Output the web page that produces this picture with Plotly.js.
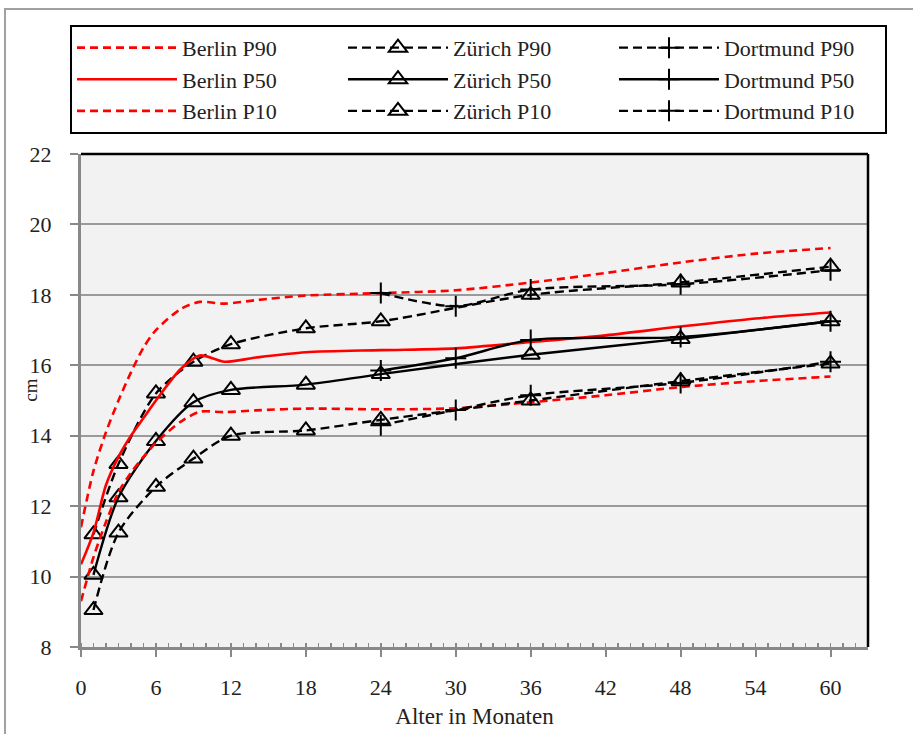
<!DOCTYPE html>
<html><head><meta charset="utf-8">
<script src="https://cdn.plot.ly/plotly-3.0.1.min.js"></script>
<style>html,body{margin:0;padding:0;background:#fff}#chart{width:913px;height:734px}</style>
</head><body><div id="chart"></div><script>
// Berlin (smooth reference curves, no markers)
const berlinX   = [0, 1, 2, 3, 4, 5, 6, 8, 9.5, 11.5, 14, 18, 24, 30, 36, 42, 48, 54, 60];
const berlinP90 = [11.4, 13.0, 14.1, 15.0, 15.8, 16.5, 17.0, 17.6, 17.8, 17.75, 17.85, 17.98, 18.05, 18.13, 18.35, 18.62, 18.92, 19.17, 19.33];
const berlinP50 = [10.35, 11.25, 12.6, 13.4, 14.0, 14.5, 15.0, 15.9, 16.28, 16.1, 16.22, 16.37, 16.43, 16.48, 16.66, 16.85, 17.1, 17.33, 17.5];
const berlinP10 = [9.3, 10.55, 11.55, 12.4, 12.95, 13.4, 13.8, 14.4, 14.68, 14.67, 14.72, 14.77, 14.75, 14.78, 14.95, 15.15, 15.38, 15.55, 15.68];
// Zürich
const zurichX   = [1, 3, 6, 9, 12, 18, 24, 36, 48, 60];
const zurichP90 = [11.2, 13.2, 15.2, 16.1, 16.6, 17.05, 17.25, 18.0, 18.35, 18.8];
const zurichP50 = [10.05, 12.25, 13.85, 14.95, 15.3, 15.45, 15.75, 16.3, 16.75, 17.25];
const zurichP10 = [9.05, 11.25, 12.55, 13.35, 14.0, 14.15, 14.45, 15.0, 15.55, 16.05];
// Dortmund
const dortX   = [24, 30, 36, 48, 60];
const dortP90 = [18.05, 17.68, 18.15, 18.3, 18.7];
const dortP50 = [15.85, 16.2, 16.72, 16.8, 17.25];
const dortP10 = [14.3, 14.73, 15.15, 15.5, 16.1];

const xTicks = [0, 6, 12, 18, 24, 30, 36, 42, 48, 54, 60];
const yTicks = [8, 10, 12, 14, 16, 18, 20, 22];
const xTitle = 'Alter in Monaten';
const yTitle = 'cm';

const RED = '#ff0000', BLK = '#000000';
const redDash = '8px,5px', blkDash = '9px,5px';

function berlin(name, y, dash) {
  return {x: berlinX, y: y, name: name, type: 'scatter', mode: 'lines',
    line: {color: RED, width: 2.6, dash: dash, shape: 'spline', smoothing: 0.8}};
}
function zur(name, y, dash) {
  return {x: zurichX, y: y, name: name, type: 'scatter', mode: 'lines+markers',
    line: {color: BLK, width: 2.4, dash: dash, shape: 'spline', smoothing: 0.8},
    marker: {symbol: 'triangle-up-open', size: 16, color: BLK, line: {width: 2, color: BLK}}};
}
function dort(name, y, dash) {
  return {x: dortX, y: y, name: name, type: 'scatter', mode: 'lines+markers',
    line: {color: BLK, width: 2.4, dash: dash, shape: 'spline', smoothing: 0.8},
    marker: {symbol: 'cross-thin-open', size: 15, color: BLK, line: {width: 2, color: BLK}}};
}

const data = [
  berlin('Berlin P90', berlinP90, redDash),
  zur('Zürich P90', zurichP90, blkDash),
  dort('Dortmund P90', dortP90, blkDash),
  berlin('Berlin P50', berlinP50, 'solid'),
  zur('Zürich P50', zurichP50, 'solid'),
  dort('Dortmund P50', dortP50, 'solid'),
  berlin('Berlin P10', berlinP10, redDash),
  zur('Zürich P10', zurichP10, blkDash),
  dort('Dortmund P10', dortP10, blkDash)
];

const FONT = '"Liberation Serif", "Times New Roman", serif';
const layout = {
  width: 913, height: 734,
  margin: {l: 81, r: 45, t: 154, b: 87, pad: 0},
  paper_bgcolor: '#ffffff', plot_bgcolor: '#f2f2f2',
  font: {family: FONT, color: '#222', size: 22},
  showlegend: true,
  legend: {orientation: 'h', x: -0.014, xanchor: 'left', y: 1.262, yanchor: 'top',
    bordercolor: '#000', borderwidth: 2, bgcolor: '#fff',
    font: {family: FONT, size: 22, color: '#222'},
    entrywidth: 156, entrywidthmode: 'pixels', itemwidth: 100, traceorder: 'normal'},
  xaxis: {range: [0, 63], tickmode: 'array', tickvals: xTicks, ticktext: xTicks.map(String),
    ticks: 'outside', ticklen: 7, tickwidth: 2, tickcolor: '#888',
    showline: true, linecolor: '#888', linewidth: 3, showgrid: false, zeroline: false,
    minor: {ticks: 'inside', dtick: 1, tick0: 0, ticklen: 4, tickwidth: 1.5, tickcolor: '#888', showgrid: false},
    tickfont: {family: FONT, size: 22, color: '#222'}, ticklabelstandoff: 12,
    title: {text: xTitle, font: {family: FONT, size: 23, color: '#222'}, standoff: 9}},
  yaxis: {range: [8, 22], tickmode: 'array', tickvals: yTicks, ticktext: yTicks.map(String),
    ticks: 'outside', ticklen: 8, tickwidth: 2, tickcolor: '#888',
    showline: true, linecolor: '#888', linewidth: 3, showgrid: true, gridcolor: '#9a9a9a', gridwidth: 2,
    zeroline: false,
    tickfont: {family: FONT, size: 22, color: '#222'}, ticklabelstandoff: 14},
  annotations: [
    {text: yTitle, xref: 'paper', yref: 'paper', x: -0.0635, y: 0.52, xanchor: 'center', yanchor: 'middle',
      textangle: -90, showarrow: false, font: {family: FONT, size: 19, color: '#222'}}
  ],
  shapes: [
    {type: 'line', xref: 'paper', yref: 'paper', x0: 0, x1: 1, y0: 1, y1: 1, line: {color: '#000', width: 2.5}},
    {type: 'line', xref: 'paper', yref: 'paper', x0: 1, x1: 1, y0: 0, y1: 1, line: {color: '#000', width: 2.5}},
    {type: 'rect', xref: 'paper', yref: 'paper', x0: -0.0966, x1: 1.07, y0: -0.2, y1: 1.294,
      line: {color: '#a0a0a0', width: 2}, fillcolor: 'rgba(0,0,0,0)', layer: 'below'}
  ]
};

Plotly.newPlot('chart', data, layout, {displayModeBar: false, staticPlot: true});
</script></body></html>
